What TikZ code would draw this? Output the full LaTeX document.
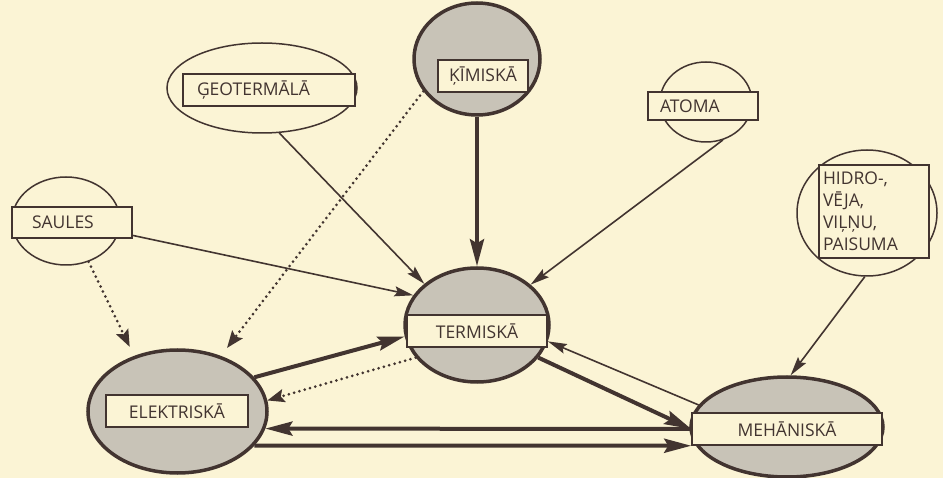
\documentclass[tikz,border=0pt]{standalone}
\usepackage{fontspec}
\setmainfont{Open Sans}
\usetikzlibrary{shapes.geometric,arrows.meta}
\definecolor{bgc}{RGB}{251,244,213}
\definecolor{inkc}{RGB}{66,52,48}
\definecolor{grayc}{RGB}{200,195,183}
\newcommand\dlbl{\fontsize{17.5}{22}\selectfont}
\tikzset{
  graynode/.style={ellipse, draw=inkc, line width=3.5pt, fill=grayc, inner sep=0pt},
  plainnode/.style={ellipse, draw=inkc, line width=1.5pt, inner sep=0pt},
  labelbox/.style={rectangle, draw=inkc, line width=1.5pt, fill=bgc, inner ysep=0pt,
    minimum height=32pt, font=\dlbl, text=inkc},
  thickarrow/.style={draw=inkc, line width=4pt, -{Stealth[length=27pt,width=14pt,inset=4pt]}},
  thinarrow/.style={draw=inkc, line width=1.6pt, -{Stealth[length=19pt,width=10pt,inset=3pt]}},
  dotarrow/.style={draw=inkc, line width=3pt, line cap=round, dash pattern=on 0pt off 5.5pt,
    -{Stealth[length=17pt,width=13pt,inset=3pt]}},
}
\begin{document}
\begin{tikzpicture}[x=1pt,y=-1pt]
\useasboundingbox (0,0) rectangle (943,478);
\fill[bgc] (0,0) rectangle (943,478);
% ellipses
\node[plainnode, minimum width=190pt, minimum height=90pt] (geo) at (262,88) {};
\node[graynode, minimum width=126pt, minimum height=112pt] (kim) at (477,59) {};
\node[plainnode, minimum width=92pt, minimum height=80pt] (ato) at (706,102) {};
\node[plainnode, minimum width=140pt, minimum height=126pt] (hid) at (867,213) {};
\node[plainnode, minimum width=108pt, minimum height=88pt] (sau) at (66,221) {};
\node[graynode, minimum width=144pt, minimum height=114pt] (ter) at (477,325) {};
\node[graynode, minimum width=179pt, minimum height=123pt] (ele) at (177.5,411.5) {};
\node[graynode, minimum width=192pt, minimum height=100pt] (meh) at (787,427) {};
% label boxes
\node[labelbox, inner xsep=14pt, text width=144pt, align=left] (geoR) at (269,90) {ĢEOTERMĀLĀ};
\node[labelbox, inner xsep=4pt, text width=82pt, align=center] (kimR) at (483,76) {ĶĪMISKĀ};
\node[labelbox, inner xsep=12pt, text width=86pt, align=left, minimum height=28pt] (atoR) at (703,106) {ATOMA};
\node[labelbox, inner xsep=4pt, text width=102pt, align=left, minimum height=93pt] (hidR) at (874,211.5) {HIDRO-,\\VĒJA,\\VIĻŅU,\\PAISUMA};
\node[labelbox, inner xsep=20pt, text width=80pt, align=left, minimum height=31pt] (sauR) at (72,222.5) {SAULES};
\node[labelbox, inner xsep=4pt, text width=132pt, align=center] (terR) at (477,331) {TERMISKĀ};
\node[labelbox, inner xsep=4pt, text width=134pt, align=center] (eleR) at (177,411) {ELEKTRISKĀ};
\node[labelbox, inner xsep=4pt, text width=182pt, align=center] (mehR) at (787,429) {MEHĀNISKĀ};
% connectors
\draw[thinarrow] (geo.-69) -- (ter.142);
\draw[thickarrow] (kim.-90) -- (ter.90);
\draw[thinarrow] (ato.-66.6) -- (ter.37.4);
\draw[thinarrow] (sauR.-12) -- (ter.155.6);
\draw[thickarrow] (ele.24.6) -- (ter.189);
\draw[dotarrow] (ter.208) -- (ele.7.7);
\draw[dotarrow, shorten >=10pt] (sau.-61) -- (ele.128);
\draw[dotarrow, shorten >=10pt] (kim.211.4) -- (ele.52);
\draw[thickarrow] (mehR.west) -- (ele.-11.5);
\draw[thickarrow] (ele.-24) -- (mehR.south west);
\draw[thickarrow] (ter.-28.5) -- (mehR.west);
\draw[thinarrow] (meh.166) -- (ter.-13.9);
\draw[thinarrow] (hid.-92) -- (meh.86.6);
\end{tikzpicture}
\end{document}
